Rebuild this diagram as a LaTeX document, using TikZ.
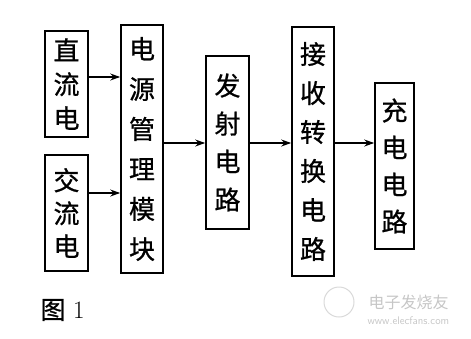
\documentclass[tikz,border=0pt]{standalone}
\usepackage{fontspec}
\newfontfamily\cjk[AutoFakeBold=0.8]{Noto Sans CJK SC}
\usetikzlibrary{arrows.meta}
\tikzset{
  blk/.style={draw, line width=1.6pt, inner sep=0pt, align=center},
  lnk/.style={->, line width=1.3pt},
}
\begin{document}
\begin{tikzpicture}[x=1pt, y=-1pt, >={Stealth[length=10pt,width=7pt]}]
  \useasboundingbox (0,0) rectangle (471,338);
  % 电源输入
  \node[blk, minimum width=43pt, minimum height=106pt, font=\cjk\bfseries\fontsize{26}{34}\selectfont]
    (dc) at (66.5,84) {直\\流\\电};
  \node[blk, minimum width=43pt, minimum height=116pt, font=\cjk\bfseries\fontsize{26}{33}\selectfont]
    (ac) at (66.5,213) {交\\流\\电};
  % 各模块
  \node[blk, minimum width=42pt, minimum height=248pt, font=\cjk\bfseries\fontsize{26}{40}\selectfont]
    (pm) at (142,149) {电\\源\\管\\理\\模\\块};
  \node[blk, minimum width=43pt, minimum height=173pt, font=\cjk\bfseries\fontsize{26}{38}\selectfont]
    (tx) at (227.5,142.5) {发\\射\\电\\路};
  \node[blk, minimum width=42pt, minimum height=249pt, font=\cjk\bfseries\fontsize{26}{39}\selectfont]
    (rx) at (313,151.5) {接\\收\\转\\换\\电\\路};
  \node[blk, minimum width=39pt, minimum height=166pt, font=\cjk\bfseries\fontsize{26}{37}\selectfont]
    (chg) at (394.5,166) {充\\电\\电\\路};
  % 箭头高度
  \coordinate (h1) at (0,77);
  \coordinate (h2) at (0,193);
  \coordinate (h3) at (0,143);
  \draw[lnk] (dc.east |- h1) -- (pm.west |- h1);
  \draw[lnk] (ac.east |- h2) -- (pm.west |- h2);
  \draw[lnk] (pm.east |- h3) -- (tx.west |- h3);
  \draw[lnk] (tx.east |- h3) -- (rx.west |- h3);
  \draw[lnk] (rx.east |- h3) -- (chg.west |- h3);
  % 图题
  \node[anchor=west, font=\fontsize{25}{25}\selectfont] (cap) at (37,310) {{\cjk\bfseries 图}\ 1};
  % 水印
  \draw[gray!30, line width=1pt] (339,302) circle (15);
  \node[anchor=west, gray!45, font=\cjk\fontsize{16}{16}\selectfont] (wm1) at (365,302) {电子发烧友};
  \node[anchor=west, gray!45, font=\sffamily\fontsize{11}{11}\selectfont] (wm2) at (364,321) {www.elecfans.com};
\end{tikzpicture}
\end{document}
